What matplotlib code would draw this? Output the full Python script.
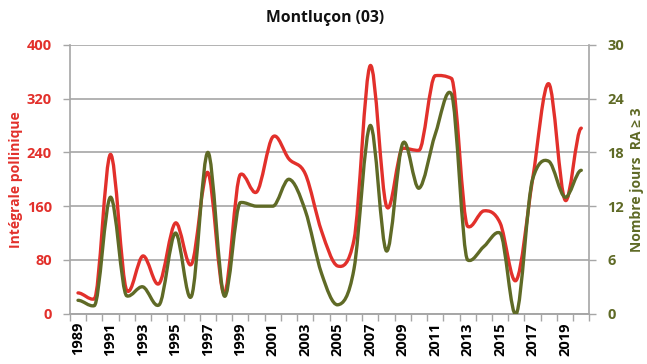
import numpy as np
import matplotlib.pyplot as plt
from matplotlib.path import Path
from matplotlib.patches import PathPatch

years = list(range(1989, 2021))
pollen = [31, 22, 237, 35, 86, 45, 135, 74, 210, 30, 207, 181, 263, 230, 208, 123,
          71, 110, 369, 160, 246, 243, 354, 350, 130, 153, 135, 50, 200, 342, 169, 276]
jours = [1.5, 0.9, 13, 2, 3, 1, 9, 2, 18, 2, 12.4, 12, 12, 15, 11.5, 4.5,
         1, 5, 21, 7, 19, 14, 20, 24.5, 6, 7.5, 9, 0, 15, 17, 13, 16]

RED = '#e2302b'
OLIVE = '#5f6a26'
GRID = '#a6a6a6'
FONT = 'Open Sans'


def smooth_path(x, y):
    # cubic Bezier through every point with Catmull-Rom tangents,
    # damped at peaks/troughs so the curve only overshoots a little
    x = np.asarray(x, float)
    y = np.asarray(y, float)
    n = len(y)
    off = np.zeros(n)
    for i in range(n):
        lo = y[i - 1] if i > 0 else y[i]
        hi = y[i + 1] if i < n - 1 else y[i]
        d_prev = y[i] - lo
        d_next = hi - y[i]
        o = (hi - lo) / 6
        k = 1.0 if d_prev * d_next > 0 else 0.25
        lim = k * min(abs(d_prev), abs(d_next))
        off[i] = np.sign(o) * min(abs(o), lim)
    verts = [(x[0], y[0])]
    codes = [Path.MOVETO]
    for i in range(n - 1):
        dx = (x[i + 1] - x[i]) / 3
        verts += [(x[i] + dx, y[i] + off[i]),
                  (x[i + 1] - dx, y[i + 1] - off[i + 1]),
                  (x[i + 1], y[i + 1])]
        codes += [Path.CURVE4] * 3
    return Path(verts, codes)


fig = plt.figure(figsize=(6.47, 3.64), dpi=100)
ax = fig.add_axes([0.108, 0.138, 0.803, 0.739])
ax2 = ax.twinx()

x = np.arange(len(years))
ax.add_patch(PathPatch(smooth_path(x, pollen), fill=False, edgecolor=RED, lw=2.4,
                       capstyle='round', joinstyle='round', zorder=3))
ax2.add_patch(PathPatch(smooth_path(x, jours), fill=False, edgecolor=OLIVE, lw=2.4,
                        capstyle='round', joinstyle='round', zorder=3))

ax.set_xlim(-0.5, len(years) - 0.5)
ax.set_ylim(0, 400)
ax2.set_ylim(0, 30)
ax.set_yticks(np.arange(0, 401, 80))
ax2.set_yticks(np.arange(0, 31, 6))

ax.yaxis.grid(True, color=GRID, lw=1.2)
ax.set_axisbelow(True)

# year labels centred on categories, tick marks on the boundaries
ax.set_xticks(x[::2])
ax.set_xticklabels([str(y) for y in years[::2]], rotation=90, fontsize=10.5,
                   fontweight='bold', family=FONT)
ax.set_xticks(np.arange(-0.5, len(years)), minor=True)
ax.tick_params(axis='x', which='major', length=0, pad=6)
ax.tick_params(axis='x', which='minor', length=5, color=GRID, width=1)

for a in (ax, ax2):
    for s in a.spines.values():
        s.set_visible(False)
    a.spines['bottom'].set_visible(True)
    a.spines['bottom'].set_color(GRID)
    a.spines['bottom'].set_linewidth(1.2)
ax.spines['left'].set_visible(True)
ax.spines['left'].set_color(GRID)
ax.spines['left'].set_linewidth(1.2)
ax2.spines['right'].set_visible(True)
ax2.spines['right'].set_color(GRID)
ax2.spines['right'].set_linewidth(1.2)

ax.tick_params(axis='y', length=5, color=GRID, width=1, labelsize=10.5,
               labelcolor=RED, pad=8)
ax2.tick_params(axis='y', length=5, color=GRID, width=1, labelsize=10.5,
                labelcolor=OLIVE, pad=8)
for lab in ax.get_yticklabels() + ax2.get_yticklabels():
    lab.set_fontweight('bold')
    lab.set_family(FONT)

ax.set_ylabel('Intégrale pollinique', color=RED, fontsize=10, fontweight='bold',
              family=FONT, labelpad=3)
ax2.set_ylabel('Nombre jours  RA ≥ 3', color=OLIVE, fontsize=10, fontweight='bold',
               family=[FONT, 'DejaVu Sans'], labelpad=4)

fig.text(0.503, 0.95, 'Montluçon (03)', ha='center', va='center', fontsize=11.3,
         fontweight='bold', family=FONT, color='#111111')

fig.savefig('out.png', dpi=100, facecolor='white')
